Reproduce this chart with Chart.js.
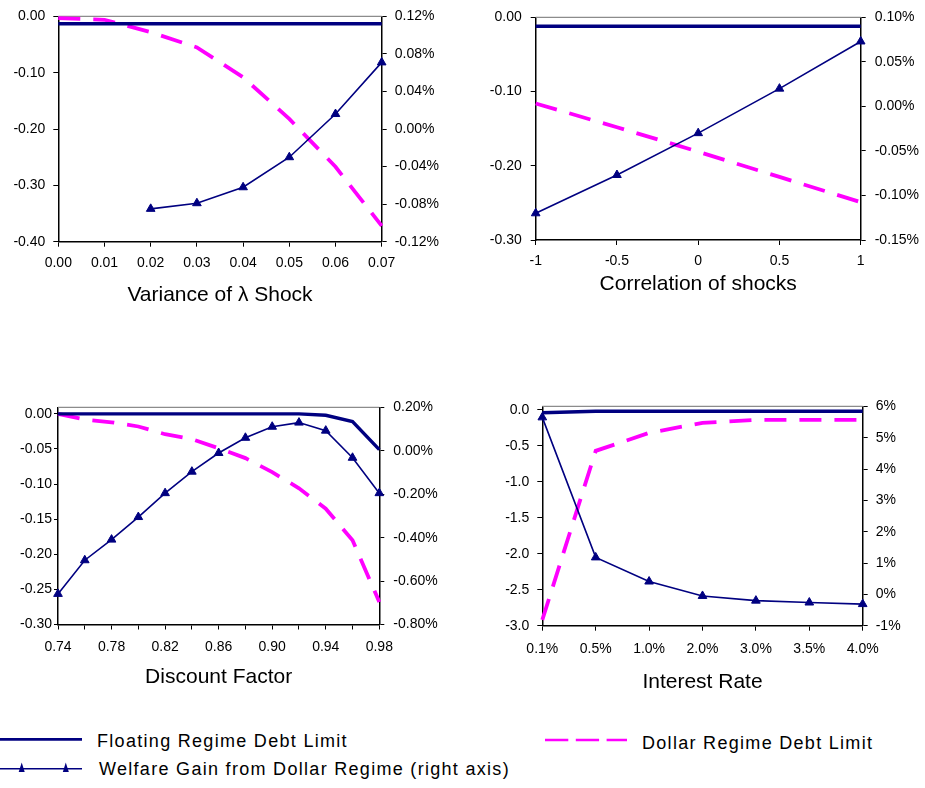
<!DOCTYPE html>
<html>
<head>
<meta charset="utf-8">
<title>Debt limits and welfare gain</title>
<script src="https://cdn.jsdelivr.net/npm/chart.js@4.4.1/dist/chart.umd.min.js"></script>
<style>
  body { margin: 0; background: #fff; }
  #page { position: relative; width: 925px; height: 788px; overflow: hidden; font-family: "Liberation Sans", Arial, sans-serif; }
  canvas { position: absolute; }
  .lg { position: absolute; font-size: 18px; line-height: 20px; letter-spacing: 1.3px; color: #000; white-space: nowrap; }
</style>
</head>
<body>
<div id="page">
  <canvas id="c1" width="465" height="310" style="left:0;top:0"></canvas>
  <canvas id="c2" width="460" height="310" style="left:465px;top:0"></canvas>
  <canvas id="c3" width="465" height="310" style="left:0;top:390px"></canvas>
  <canvas id="c4" width="460" height="310" style="left:465px;top:390px"></canvas>

  <svg style="position:absolute;left:0;top:725px" width="925" height="63">
    <line x1="0" y1="14.3" x2="82" y2="14.3" stroke="#000080" stroke-width="2.7"/>
    <line x1="545" y1="15" x2="627" y2="15" stroke="#FF00FF" stroke-width="2.7" stroke-dasharray="23.3 7.5"/>
    <line x1="0" y1="43.8" x2="82" y2="43.8" stroke="#000080" stroke-width="1.4"/>
    <polygon points="18.7,47 24.7,47 21.7,37.5" fill="#000080"/>
    <polygon points="62.8,47 68.8,47 65.8,37.5" fill="#000080"/>
  </svg>
  <span class="lg" style="left:97px;top:731px">Floating Regime Debt Limit</span>
  <span class="lg" style="left:642px;top:733px">Dollar Regime Debt Limit</span>
  <span class="lg" style="left:99px;top:759px">Welfare Gain from Dollar Regime (right axis)</span>
</div>
<script>
// ---- data ----
// Variance of lambda shock
const varLabels   = ['0.00', '0.01', '0.02', '0.03', '0.04', '0.05', '0.06', '0.07'];
const varFloating = [-0.013, -0.013, -0.013, -0.013, -0.013, -0.013, -0.013, -0.013];
const varDollar   = [-0.003, -0.006, -0.028, -0.055, -0.108, -0.182, -0.267, -0.372];
const varWelfare  = [null, null, -0.085, -0.079, -0.062, -0.030, 0.016, 0.071];
const varLeftTicks  = [-0.4, -0.3, -0.2, -0.1, 0];
const varRightTicks = [-0.12, -0.08, -0.04, 0, 0.04, 0.08, 0.12];

// Correlation of shocks
const corrLabels   = ['-1', '-0.5', '0', '0.5', '1'];
const corrFloating = [-0.012, -0.012, -0.012, -0.012, -0.012];
const corrDollar   = [-0.116, -0.148, -0.181, -0.215, -0.249];
const corrWelfare  = [-0.120, -0.077, -0.030, 0.020, 0.073];
const corrLeftTicks  = [-0.3, -0.2, -0.1, 0];
const corrRightTicks = [-0.15, -0.10, -0.05, 0, 0.05, 0.10];

// Discount factor
const discLabels   = ['0.74', '0.76', '0.78', '0.80', '0.82', '0.84', '0.86', '0.88', '0.90', '0.92', '0.94', '0.96', '0.98'];
const discFloating = [0, 0, 0, 0, 0, 0, 0, 0, 0, 0, -0.002, -0.011, -0.051];
const discDollar   = [0, -0.008, -0.012, -0.018, -0.029, -0.036, -0.049, -0.063, -0.083, -0.106, -0.135, -0.180, -0.268];
const discWelfare  = [-0.659, -0.504, -0.409, -0.305, -0.195, -0.096, -0.010, 0.060, 0.111, 0.130, 0.093, -0.032, -0.195];
const discLeftTicks  = [-0.30, -0.25, -0.20, -0.15, -0.10, -0.05, 0];
const discRightTicks = [-0.8, -0.6, -0.4, -0.2, 0, 0.2];

// Interest rate
const rateLabels   = ['0.1%', '0.5%', '1.0%', '2.0%', '3.0%', '3.5%', '4.0%'];
const rateFloating = [-0.04, -0.02, -0.02, -0.02, -0.02, -0.02, -0.02];
const rateDollar   = [-2.92, -0.57, -0.32, -0.18, -0.14, -0.14, -0.14];
const rateWelfare  = [5.65, 1.18, 0.41, -0.05, -0.20, -0.26, -0.31];
const rateLeftTicks  = [-3.0, -2.5, -2.0, -1.5, -1.0, -0.5, 0];
const rateRightTicks = [-1, 0, 1, 2, 3, 4, 5, 6];

const NAVY = '#000080';
const PINK = '#FF00FF';
Chart.defaults.font.family = '"Liberation Sans", Arial, sans-serif';
Chart.defaults.color = '#000';

// grey line closing the top of each plot area
const topFrame = {
  id: 'topFrame',
  beforeDatasetsDraw(chart) {
    const a = chart.chartArea, ctx = chart.ctx;
    ctx.save();
    ctx.strokeStyle = '#8c8c8c';
    ctx.lineWidth = 1.2;
    ctx.beginPath();
    ctx.moveTo(a.left, a.top);
    ctx.lineTo(a.right, a.top);
    ctx.stroke();
    ctx.restore();
  }
};

function makePanel(id, p) {
  const tickFont = { size: 14 };
  return new Chart(document.getElementById(id), {
    type: 'line',
    data: {
      labels: p.labels,
      datasets: [
        {
          label: 'Welfare Gain from Dollar Regime (right axis)',
          data: p.welfare, yAxisID: 'y1',
          borderColor: NAVY, backgroundColor: NAVY, borderWidth: 1.6,
          pointStyle: 'triangle', pointRadius: 5, pointBorderWidth: 1,
          pointBackgroundColor: NAVY, pointBorderColor: NAVY,
          tension: 0, clip: false
        },
        {
          label: 'Floating Regime Debt Limit',
          data: p.floating, yAxisID: 'y',
          borderColor: NAVY, borderWidth: 3.4, pointRadius: 0,
          tension: 0, clip: false
        },
        {
          label: 'Dollar Regime Debt Limit',
          data: p.dollar, yAxisID: 'y',
          borderColor: PINK, borderWidth: 3.8, borderDash: [22, 13],
          pointRadius: 0, tension: 0, clip: false
        }
      ]
    },
    options: {
      responsive: false,
      animation: false,
      events: [],
      layout: { padding: { top: p.padTop, left: 0, right: 0, bottom: 0 } },
      plugins: { legend: { display: false }, tooltip: { enabled: false } },
      scales: {
        x: {
          type: 'category',
          offset: false,
          grid: { offset: false, drawOnChartArea: false, color: '#000', tickLength: 5 },
          border: { color: '#000', width: 1.5 },
          ticks: {
            font: tickFont, padding: p.xPad, maxRotation: 0, autoSkip: false,
            callback: function (value, index) {
              if (p.xEvery && index % p.xEvery) return '';
              return this.getLabelForValue(value);
            }
          },
          title: {
            display: true, text: p.title, color: '#000',
            font: { size: 21 }, padding: { top: 0, bottom: p.titlePad }
          },
          afterFit: s => { s.height = p.xH; }
        },
        y: {
          position: 'left',
          min: p.yMin, max: p.yMax,
          grid: { drawOnChartArea: false, color: '#000', tickLength: p.leftTick },
          border: { color: '#000', width: 1.5 },
          ticks: { font: tickFont, padding: p.leftPad, callback: v => v.toFixed(p.leftDec) },
          afterBuildTicks: s => { s.ticks = p.leftTicks.map(v => ({ value: v })); },
          afterFit: s => { s.width = p.leftW; }
        },
        y1: {
          position: 'right',
          min: p.y1Min, max: p.y1Max,
          grid: { drawOnChartArea: false, color: '#000', tickLength: 5 },
          border: { color: '#000', width: 1.5 },
          ticks: { font: tickFont, padding: p.rightPad, callback: v => v.toFixed(p.rightDec) + '%' },
          afterBuildTicks: s => { s.ticks = p.rightTicks.map(v => ({ value: v })); },
          afterFit: s => { s.width = p.rightW; }
        }
      }
    },
    plugins: [topFrame]
  });
}

makePanel('c1', {
  labels: varLabels, floating: varFloating, dollar: varDollar, welfare: varWelfare,
  leftTicks: varLeftTicks, rightTicks: varRightTicks,
  yMin: -0.4, yMax: 0, y1Min: -0.12, y1Max: 0.12, leftDec: 2, rightDec: 2,
  title: 'Variance of \u03BB Shock',
  padTop: 15.7, leftW: 58.3, rightW: 83.3, xH: 68.3,
  xPad: 8.5, titlePad: 2.4, leftTick: 5, leftPad: 8, rightPad: 8
});

makePanel('c2', {
  labels: corrLabels, floating: corrFloating, dollar: corrDollar, welfare: corrWelfare,
  leftTicks: corrLeftTicks, rightTicks: corrRightTicks,
  yMin: -0.3, yMax: 0, y1Min: -0.15, y1Max: 0.10, leftDec: 2, rightDec: 2,
  title: 'Correlation of shocks',
  padTop: 14, leftW: 70.7, rightW: 64.3, xH: 70,
  xPad: 8, titlePad: 12.7, leftTick: 5, leftPad: 9, rightPad: 9
});

makePanel('c3', {
  labels: discLabels, floating: discFloating, dollar: discDollar, welfare: discWelfare,
  leftTicks: discLeftTicks, rightTicks: discRightTicks, xEvery: 2,
  yMin: -0.3, yMax: 0.0092, y1Min: -0.8, y1Max: 0.2, leftDec: 2, rightDec: 2,
  title: 'Discount Factor',
  padTop: 9, leftW: 58, rightW: 85.7, xH: 75.5,
  xPad: 9, titlePad: 9.9, leftTick: 4, leftPad: 2, rightPad: 9
});

makePanel('c4', {
  labels: rateLabels, floating: rateFloating, dollar: rateDollar, welfare: rateWelfare,
  leftTicks: rateLeftTicks, rightTicks: rateRightTicks,
  yMin: -3, yMax: 0.048, y1Min: -1, y1Max: 6, leftDec: 1, rightDec: 0,
  title: 'Interest Rate',
  padTop: 9.3, leftW: 77.3, rightW: 62.3, xH: 74.3,
  xPad: 10, titlePad: 4.9, leftTick: 5, leftPad: 8, rightPad: 8
});
</script>
</body>
</html>
